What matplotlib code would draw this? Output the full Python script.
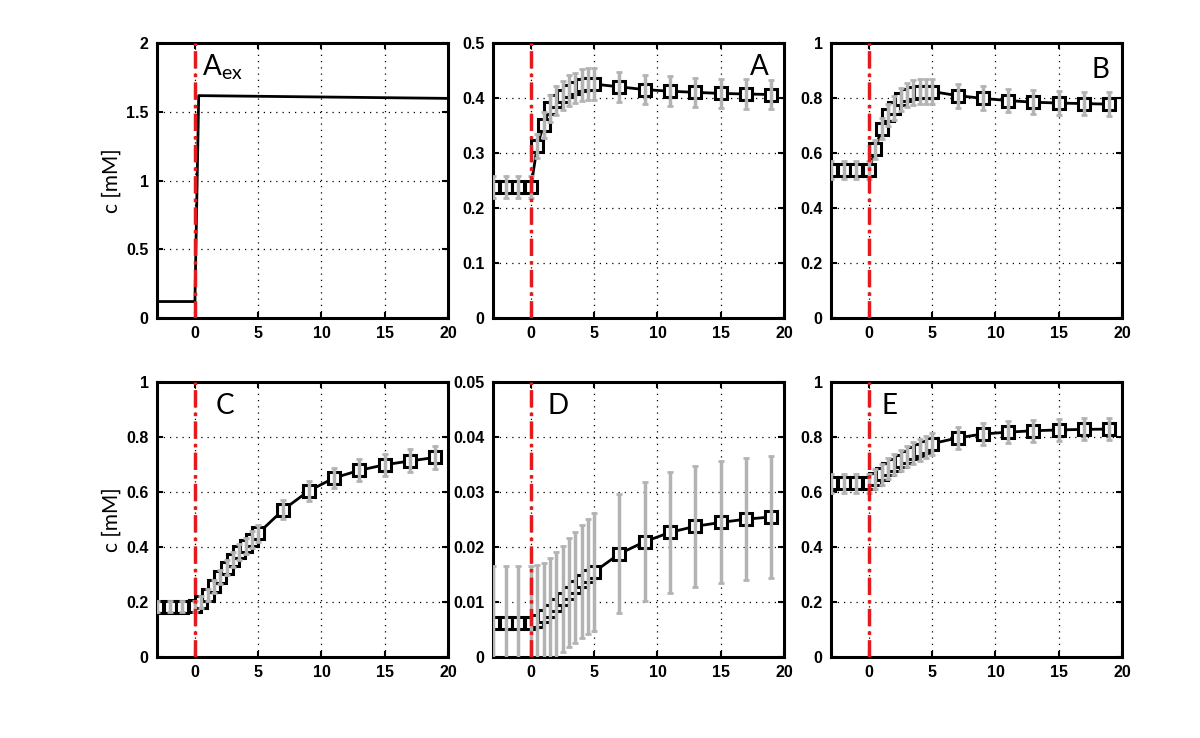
import numpy as np
import matplotlib.pyplot as plt

# ==============================
# DATA
# ==============================
t = [-3, -2, -1, 0, 0.5, 1, 1.5, 2, 2.5, 3, 3.5, 4, 4.5, 5, 7, 9, 11, 13, 15, 17, 19]

aex_t = [-3, 0, 0.3, 20]
aex_c = [0.12, 0.12, 1.62, 1.60]

A = [0.238, 0.238, 0.238, 0.238, 0.313, 0.352, 0.382, 0.396, 0.405, 0.414, 0.419, 0.424, 0.426, 0.426,
     0.421, 0.416, 0.413, 0.411, 0.409, 0.408, 0.407]
A_err = [0.02, 0.02, 0.02, 0.02, 0.022, 0.024, 0.025, 0.026, 0.027, 0.028, 0.028, 0.029, 0.029, 0.029,
         0.027, 0.027, 0.027, 0.027, 0.027, 0.027, 0.027]

B = [0.538, 0.538, 0.538, 0.538, 0.614, 0.689, 0.738, 0.765, 0.796, 0.812, 0.821, 0.824, 0.825, 0.825,
     0.81, 0.8, 0.792, 0.786, 0.783, 0.781, 0.779]
B_err = [0.033, 0.033, 0.033, 0.033, 0.035, 0.038, 0.04, 0.042, 0.043, 0.044, 0.045, 0.045, 0.045, 0.045,
         0.044, 0.044, 0.043, 0.043, 0.043, 0.043, 0.043]

C = [0.183, 0.183, 0.183, 0.185, 0.2, 0.225, 0.258, 0.29, 0.325, 0.355, 0.383, 0.405, 0.427, 0.45,
     0.537, 0.605, 0.652, 0.68, 0.70, 0.714, 0.727]
C_err = [0.02, 0.02, 0.02, 0.02, 0.021, 0.022, 0.024, 0.025, 0.027, 0.028, 0.029, 0.03, 0.031, 0.032,
         0.035, 0.037, 0.038, 0.04, 0.041, 0.042, 0.042]

D = [0.0062, 0.0062, 0.0062, 0.0062, 0.0066, 0.0074, 0.0084, 0.0094, 0.0106, 0.0117, 0.0127, 0.0138,
     0.0147, 0.0155, 0.0188, 0.021, 0.0227, 0.0238, 0.0245, 0.0251, 0.0255]
D_err = [0.0103, 0.0103, 0.0103, 0.0103, 0.0101, 0.0098, 0.0096, 0.0097, 0.0097, 0.0099, 0.0101, 0.0103,
         0.0105, 0.0107, 0.0108, 0.0108, 0.011, 0.011, 0.0111, 0.0111, 0.0111]

E = [0.632, 0.632, 0.632, 0.632, 0.648, 0.665, 0.685, 0.70, 0.715, 0.73, 0.742, 0.755, 0.765, 0.777,
     0.798, 0.812, 0.819, 0.824, 0.827, 0.829, 0.83]
E_err = [0.035] * 4 + [0.036, 0.037, 0.038, 0.038, 0.039, 0.039, 0.04, 0.04, 0.04, 0.04,
                       0.04, 0.04, 0.04, 0.04, 0.04, 0.04, 0.04]

# ==============================
# FIGURE
# ==============================
fig = plt.figure(figsize=(12, 7.38), dpi=100)

lefts = [0.1308, 0.4108, 0.6925]
bottoms = [0.5691, 0.1098]
w, h = 0.2425, 0.372

panels = [
    ("aex", None, None, 2.0, [0, 0.5, 1, 1.5, 2], ["0", "0.5", "1", "1.5", "2"]),
    ("A", A, A_err, 0.5, [0, 0.1, 0.2, 0.3, 0.4, 0.5], ["0", "0.1", "0.2", "0.3", "0.4", "0.5"]),
    ("B", B, B_err, 1.0, [0, 0.2, 0.4, 0.6, 0.8, 1], ["0", "0.2", "0.4", "0.6", "0.8", "1"]),
    ("C", C, C_err, 1.0, [0, 0.2, 0.4, 0.6, 0.8, 1], ["0", "0.2", "0.4", "0.6", "0.8", "1"]),
    ("D", D, D_err, 0.05, [0, 0.01, 0.02, 0.03, 0.04, 0.05], ["0", "0.01", "0.02", "0.03", "0.04", "0.05"]),
    ("E", E, E_err, 1.0, [0, 0.2, 0.4, 0.6, 0.8, 1], ["0", "0.2", "0.4", "0.6", "0.8", "1"]),
]

label_pos = {
    "aex": (0.55, 0.915, "left"),
    "A": (18.8, 0.915, "right"),
    "B": (19.0, 0.905, "right"),
    "C": (1.6, 0.915, "left"),
    "D": (1.3, 0.915, "left"),
    "E": (1.0, 0.915, "left"),
}

for i, (name, vals, errs, ymax, yt, ytl) in enumerate(panels):
    ax = fig.add_axes([lefts[i % 3], bottoms[i // 3], w, h])
    ax.set_xlim(-3, 20)
    ax.set_ylim(0, ymax)
    ax.set_xticks([0, 5, 10, 15, 20])
    ax.set_yticks(yt)
    ax.set_yticklabels(ytl)
    ax.grid(True, color="k", linestyle=(0, (1, 4)), linewidth=0.9)
    ax.tick_params(direction="in", length=4, width=1.5, top=True, right=True,
                   labelsize=11.5, pad=6)
    for lab in ax.get_xticklabels() + ax.get_yticklabels():
        lab.set_fontweight("bold")
        lab.set_family("Liberation Sans")
    for sp in ax.spines.values():
        sp.set_linewidth(2.2)

    if name == "aex":
        ax.plot(aex_t, aex_c, color="k", linewidth=2, zorder=3)
    else:
        ax.plot(t, vals, color="k", linewidth=2, marker="s", markersize=8,
                markerfacecolor="white", markeredgecolor="k", markeredgewidth=2.2, zorder=3)
        ax.errorbar(t, vals, yerr=errs, fmt="none", ecolor="#b3b3b3", elinewidth=2.5,
                    capsize=2.5, capthick=2, zorder=4, clip_on=True)

    ax.axvline(0, color="#e41a1c", linestyle=(0, (5, 1.5, 1, 1.5)), linewidth=2.5, zorder=5)

    lx, ly, ha = label_pos[name]
    txt = r"A$_\mathregular{ex}$" if name == "aex" else name
    ax.text(lx, ly * ymax, txt, fontsize=20, ha=ha, va="center", family="Lato", zorder=6)

    if i % 3 == 0:
        ax.set_ylabel("c [mM]", fontsize=15, labelpad=3, family="Lato")

fig.savefig("out.png", dpi=100)
